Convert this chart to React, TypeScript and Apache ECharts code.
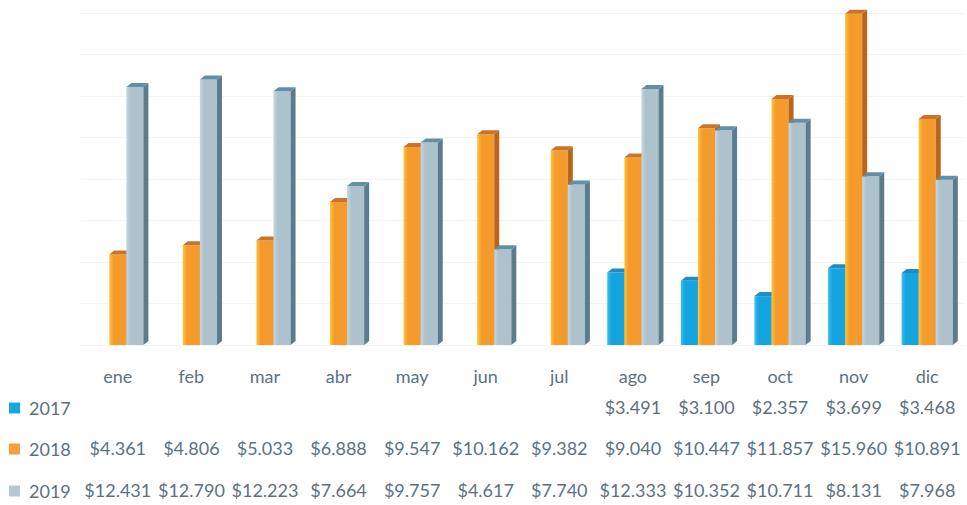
import React, { useEffect, useRef } from "react";
import * as echarts from "echarts";

const months = ["ene", "feb", "mar", "abr", "may", "jun", "jul", "ago", "sep", "oct", "nov", "dic"];
const seriesNames = ["2017", "2018", "2019"];
const values2017: (number | null)[] = [null, null, null, null, null, null, null, 3491, 3100, 2357, 3699, 3468];
const values2018: (number | null)[] = [4361, 4806, 5033, 6888, 9547, 10162, 9382, 9040, 10447, 11857, 15960, 10891];
const values2019: (number | null)[] = [12431, 12790, 12223, 7664, 9757, 4617, 7740, 12333, 10352, 10711, 8131, 7968];
const allValues = [values2017, values2018, values2019];

const palette = [
  { front: ["#3cc0f2", "#14a4e0"], side: "#0f78a8", top: "#1f8dc0", legend: "#17a8e4" },
  { front: ["#fcc63c", "#f59a2c"], side: "#b9661c", top: "#c9742c", legend: "#f5a03a" },
  { front: ["#c6d6df", "#aec2cd"], side: "#5a7c8c", top: "#5f90a4", legend: "#b6c8d2" },
];

const fmt = (v: number | null) => {
  if (v == null) return "";
  const th = Math.floor(v / 1000);
  const rest = String(v % 1000).padStart(3, "0");
  return th > 0 ? `$${th}.${rest}` : `$${v}`;
};

const textColor = "#5c7180";

export default function App() {
  const ref = useRef<HTMLDivElement>(null);
  useEffect(() => {
    document.body.style.margin = "0";
    if (!ref.current) return;
    const chart = echarts.init(ref.current, null, { renderer: "svg" });
    const depthX = 5;
    const depthY = -4;
    const makeSeries = (si: number) => ({
      type: "custom",
      name: seriesNames[si],
      xAxisIndex: 0,
      yAxisIndex: 0,
      encode: { x: 0, y: 1 },
      data: allValues[si].map((v, i) => [i, v]),
      renderItem: (params: any, api: any) => {
        const v = api.value(1);
        if (v == null || isNaN(v)) return null;
        const idx = api.value(0);
        const base = api.coord([idx, 0]);
        const top = api.coord([idx, v]);
        const band = api.size([1, 0])[0];
        const w = band * 0.232;
        const x = base[0] - 1.5 * w + si * w;
        const c = palette[si];
        return {
          type: "group",
          children: [
            {
              type: "rect",
              shape: { x, y: top[1], width: w, height: base[1] - top[1] },
              style: {
                fill: new echarts.graphic.LinearGradient(0, 0, 1, 0, [
                  { offset: 0, color: c.front[0] },
                  { offset: 0.25, color: c.front[1] },
                  { offset: 1, color: c.front[1] },
                ]),
              },
            },
            {
              type: "polygon",
              shape: {
                points: [
                  [x + w, top[1]],
                  [x + w + depthX, top[1] + depthY],
                  [x + w + depthX, base[1] + depthY],
                  [x + w, base[1]],
                ],
              },
              style: { fill: c.side },
            },
            {
              type: "polygon",
              shape: {
                points: [
                  [x, top[1]],
                  [x + depthX, top[1] + depthY],
                  [x + w + depthX, top[1] + depthY],
                  [x + w, top[1]],
                ],
              },
              style: { fill: c.top },
            },
          ],
        };
      },
    });

    const labelAxis = (offset: number, formatter: (v: string, i: number) => string) => ({
      type: "category",
      data: months,
      gridIndex: 0,
      position: "bottom",
      offset,
      axisLine: { show: false },
      axisTick: { show: false },
      splitLine: { show: false },
      axisLabel: {
        interval: 0,
        hideOverlap: false,
        margin: 22,
        fontSize: 18,
        fontFamily: "Lato",
        color: textColor,
        formatter,
      },
    });

    const legendTops = [398, 439, 481];

    chart.setOption({
      animation: false,
      backgroundColor: "#ffffff",
      grid: { left: 81, right: 3, top: 13, bottom: 160, containLabel: false },
      legend: seriesNames.map((n, i) => ({
        orient: "vertical",
        left: 9,
        top: legendTops[i],
        padding: 0,
        itemWidth: 11,
        itemHeight: 11,
        icon: "rect",
        textStyle: { fontSize: 18, fontFamily: "Lato", color: textColor, lineHeight: 20, padding: [0, 0, 0, 4] },
        data: [{ name: n, itemStyle: { color: palette[i].legend } }],
      })),
      xAxis: [
        labelAxis(0, (v: string) => v),
        labelAxis(31, (_v: string, i: number) => fmt(values2017[i])),
        labelAxis(72, (_v: string, i: number) => fmt(values2018[i])),
        labelAxis(114, (_v: string, i: number) => fmt(values2019[i])),
      ],
      yAxis: {
        type: "value",
        min: 0,
        max: 16000,
        interval: 2000,
        axisLine: { show: false },
        axisTick: { show: false },
        axisLabel: { show: false },
        splitLine: { lineStyle: { color: "#f4f4f4", width: 1 } },
      },
      series: [makeSeries(0), makeSeries(1), makeSeries(2)],
    });
    return () => chart.dispose();
  }, []);
  return <div ref={ref} style={{ width: 967, height: 505 }} />;
}
